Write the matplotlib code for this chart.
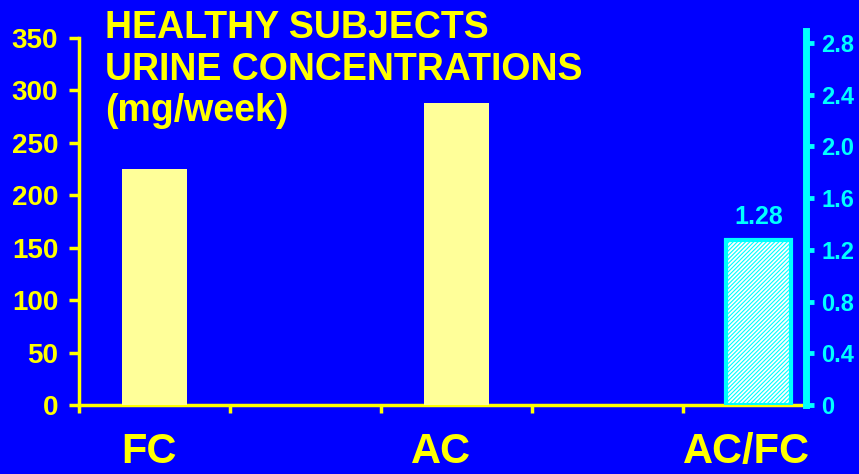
import matplotlib
matplotlib.use("Agg")
import matplotlib.pyplot as plt

# data
categories = ["FC", "AC", "AC/FC"]
conc_values = [225, 288]          # mg/week, left axis
ratio_value = 1.28                # AC/FC, right axis
left_ticks = [0, 50, 100, 150, 200, 250, 300, 350]
right_ticks = [0, 0.4, 0.8, 1.2, 1.6, 2.0, 2.4, 2.8]
right_tick_labels = ["0", "0.4", "0.8", "1.2", "1.6", "2.0", "2.4", "2.8"]

BLUE = "#0000FF"
YELLOW = "#FFFF00"
PALE = "#FFFF99"
CYAN = "#00FFFF"

plt.rcParams["font.family"] = ["Liberation Sans", "DejaVu Sans"]
plt.rcParams["font.weight"] = "bold"
plt.rcParams["hatch.linewidth"] = 0.8

W, H = 859, 474
fig = plt.figure(figsize=(W / 100, H / 100), dpi=100, facecolor=BLUE)

# axes box in pixels: x 79..806, y 31..405
x0, x1, ytop, ybot = 79, 806, 31, 405
ax = fig.add_axes([x0 / W, (H - ybot) / H, (x1 - x0) / W, (ybot - ytop) / H])
ax.set_facecolor(BLUE)

scale = (ybot - ytop) / (ybot - 38)
ax.set_ylim(0, 350 * scale)
ax.set_xlim(0, (x1 - x0) / 151)

bar_w = 0.43
centers = [0.5, 2.5, 4.5]
ax.bar(centers[:2], conc_values, width=bar_w, color=PALE, edgecolor="none", zorder=3)

for side in ["top", "right"]:
    ax.spines[side].set_visible(False)
ax.spines["left"].set_color(YELLOW)
ax.spines["left"].set_linewidth(2.5)
ax.spines["left"].set_bounds(0, 350)
ax.spines["bottom"].set_color(YELLOW)
ax.spines["bottom"].set_linewidth(2.5)

ax.set_yticks(left_ticks)
ax.set_yticklabels([str(t) for t in left_ticks])
ax.tick_params(axis="y", colors=YELLOW, labelsize=20, length=7, width=2.5,
               pad=8, labelcolor=YELLOW)
ax.set_xticks([0, 1, 2, 3, 4])
ax.set_xticklabels([])
ax.tick_params(axis="x", colors=YELLOW, length=6, width=2.5)

# category labels under the axis
label_pos = [0.46, 2.4, 4.42]
for pos, name in zip(label_pos, categories):
    ax.text(pos, -0.125, name, transform=ax.get_xaxis_transform(),
            ha="center", va="center", fontsize=30, fontweight="bold", color=YELLOW)

# right axis for the ratio
ax2 = ax.twinx()
ax2.set_ylim(0, 2.8 * (ybot - ytop) / (ybot - 43))
ax2.bar(centers[2], ratio_value, width=bar_w, facecolor="white", edgecolor=CYAN,
        hatch="////////", linewidth=3, zorder=3)
ax2.text(centers[2], ratio_value + 0.08, f"{ratio_value:.2f}", ha="center", va="bottom",
         fontsize=18, fontweight="bold", color=CYAN)

for side in ["top", "left", "bottom"]:
    ax2.spines[side].set_visible(False)
ax2.spines["right"].set_color(CYAN)
ax2.spines["right"].set_linewidth(5)
ax2.set_yticks(right_ticks)
ax2.set_yticklabels(right_tick_labels)
ax2.tick_params(axis="y", colors=CYAN, labelsize=17, length=6, width=3.5, pad=5,
                labelcolor=CYAN)

fig.text(105 / W, 1 - 10 / H, "HEALTHY SUBJECTS\nURINE CONCENTRATIONS\n(mg/week)",
         ha="left", va="top", fontsize=27, fontweight="bold", color=YELLOW,
         linespacing=1.2)

fig.savefig("out.png", dpi=100, facecolor=BLUE)
